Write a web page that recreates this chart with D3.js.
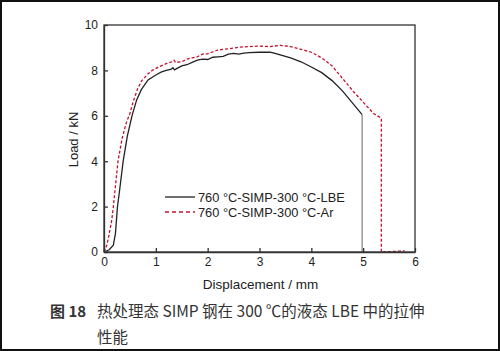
<!DOCTYPE html>
<html>
<head>
<meta charset="utf-8">
<script src="https://cdn.jsdelivr.net/npm/d3@7"></script>
<style>
  body { margin: 0; background: #fff; }
  text { font-family: "Liberation Sans", Arial, sans-serif; fill: #222; }
  .axis path, .axis line { stroke: #333; stroke-width: 1.3; }
  .axis text { font-size: 12px; fill: #222; font-family: "Liberation Sans", Arial, sans-serif; }
  .cap { font-family: "Noto Sans CJK SC", sans-serif; fill: #333; }
</style>
</head>
<body>
<div id="box-div"></div>
<script>
// 数据 (位移 mm, 载荷 kN)
const lbeX = [0, 0.1, 0.18, 0.22, 0.26, 0.3, 0.37, 0.45, 0.54, 0.63, 0.72, 0.85, 1.0, 1.1, 1.2, 1.3, 1.33, 1.36, 1.4, 1.5, 1.6, 1.7, 1.8, 1.9, 2.0, 2.1, 2.2, 2.3, 2.4, 2.5, 2.6, 2.7, 2.8, 3.0, 3.2, 3.3, 3.4, 3.6, 3.8, 4.0, 4.2, 4.4, 4.6, 4.8, 4.98, 4.98, 5.0]
const lbeY = [0, 0.1, 0.3, 0.8, 2.0, 2.7, 4.0, 5.1, 6.0, 6.7, 7.15, 7.58, 7.8, 7.92, 8.0, 8.06, 8.12, 8.02, 8.08, 8.2, 8.25, 8.35, 8.45, 8.5, 8.48, 8.58, 8.6, 8.62, 8.72, 8.75, 8.72, 8.76, 8.78, 8.8, 8.8, 8.75, 8.68, 8.55, 8.38, 8.15, 7.9, 7.55, 7.1, 6.55, 6.05, 0, 0]

const arX = [0, 0.04, 0.08, 0.15, 0.18, 0.27, 0.35, 0.43, 0.5, 0.56, 0.65, 0.73, 0.85, 0.93, 1.05, 1.2, 1.31, 1.35, 1.38, 1.5, 1.6, 1.7, 1.8, 1.9, 2.0, 2.2, 2.4, 2.6, 2.8, 3.0, 3.2, 3.4, 3.6, 3.8, 4.0, 4.2, 4.4, 4.6, 4.8, 5.0, 5.2, 5.35, 5.35, 5.8]
const arY = [0, 0.2, 0.55, 1.4, 2.0, 4.0, 5.0, 5.7, 6.1, 6.6, 7.2, 7.55, 7.85, 8.0, 8.15, 8.3, 8.38, 8.45, 8.35, 8.38, 8.5, 8.55, 8.6, 8.72, 8.73, 8.9, 8.95, 9.02, 9.05, 9.07, 9.05, 9.1, 9.05, 8.93, 8.8, 8.55, 8.2, 7.65, 7.1, 6.6, 6.1, 5.9, 0, 0.05]

const xTicks = [0, 1, 2, 3, 4, 5, 6]
const yTicks = [0, 2, 4, 6, 8, 10]
const legendNames = ['760 °C-SIMP-300 °C-LBE', '760 °C-SIMP-300 °C-Ar']

let dms = {
    width: 500,
    height: 351,
    margin: { top: 25, right: 85, bottom: 99, left: 104 }
}
dms.chartWidth = dms.width - dms.margin.left - dms.margin.right
dms.chartHeight = dms.height - dms.margin.top - dms.margin.bottom

const box = d3.select('#box-div').append('svg')
    .attr('width', dms.width)
    .attr('height', dms.height)

// 外框
box.append('rect')
    .attr('x', 1).attr('y', 1)
    .attr('width', dms.width - 2).attr('height', dms.height - 2)
    .attr('fill', '#fff').attr('stroke', '#111').attr('stroke-width', 2)

const content = box.append('g')
    .attr('transform', `translate(${dms.margin.left}, ${dms.margin.top})`)

const xScale = d3.scaleLinear().domain([0, 6]).range([0, dms.chartWidth])
const yScale = d3.scaleLinear().domain([0, 10]).range([dms.chartHeight, 0])

// 曲线
const line = d3.line()
    .x(d => xScale(d[0]))
    .y(d => yScale(d[1]))

const lbe = d3.zip(lbeX, lbeY)
const ar = d3.zip(arX, arY)

// 断裂处的竖线 (灰色)
const dropIdx = lbeY.indexOf(0, 1)
content.append('path')
    .attr('d', line(lbe.slice(0, dropIdx)))
    .attr('fill', 'none').attr('stroke', '#222').attr('stroke-width', 1.3)
content.append('path')
    .attr('d', line(lbe.slice(dropIdx - 1)))
    .attr('fill', 'none').attr('stroke', '#888').attr('stroke-width', 1.3)

content.append('path')
    .attr('d', line(ar))
    .attr('fill', 'none').attr('stroke', '#c8102e').attr('stroke-width', 1.3)
    .attr('stroke-dasharray', '3,2')

// 坐标轴
const xAxis = content.append('g')
    .attr('class', 'axis')
    .attr('transform', `translate(0, ${dms.chartHeight})`)
    .call(d3.axisBottom(xScale).tickValues(xTicks).tickFormat(d3.format('d'))
        .tickSizeInner(-4).tickSizeOuter(0).tickPadding(5))

const yAxis = content.append('g')
    .attr('class', 'axis')
    .call(d3.axisLeft(yScale).tickValues(yTicks).tickFormat(d3.format('d'))
        .tickSizeInner(-4).tickSizeOuter(0).tickPadding(6))

content.append('rect')
    .attr('width', dms.chartWidth).attr('height', dms.chartHeight)
    .attr('fill', 'none').attr('stroke', '#333').attr('stroke-width', 1.3)

content.append('text')
    .attr('x', dms.chartWidth / 2 + 1).attr('y', dms.chartHeight + 37)
    .attr('text-anchor', 'middle').style('font-size', '13.5px')
    .text('Displacement / mm')

content.append('text')
    .attr('transform', `translate(-26, ${dms.chartHeight / 2 + 1}) rotate(-90)`)
    .attr('text-anchor', 'middle').style('font-size', '13px')
    .text('Load / kN')

// 图例
const legend = content.append('g')
    .attr('transform', 'translate(61, 172)')
legend.append('line')
    .attr('x1', 0).attr('x2', 30).attr('y1', 0).attr('y2', 0)
    .attr('stroke', '#222').attr('stroke-width', 1.3)
legend.append('line')
    .attr('x1', 0).attr('x2', 30).attr('y1', 15).attr('y2', 15)
    .attr('stroke', '#c8102e').attr('stroke-width', 1.3).attr('stroke-dasharray', '4,3')
legend.selectAll('text.lg')
    .data(legendNames)
    .join('text')
    .attr('class', 'lg')
    .attr('x', 33).attr('y', (d, i) => i * 15 + 4.5)
    .style('font-size', '12.8px')
    .text(d => d)

// 图题
box.append('text')
    .attr('class', 'cap')
    .attr('x', 50).attr('y', 317)
    .style('font-size', '15px').style('font-weight', 'bold')
    .text('图 18')
box.append('text')
    .attr('class', 'cap')
    .attr('x', 97).attr('y', 317)
    .style('font-size', '15.5px')
    .text('热处理态 SIMP 钢在 300  ℃的液态 LBE 中的拉伸')
box.append('text')
    .attr('class', 'cap')
    .attr('x', 97).attr('y', 343)
    .style('font-size', '15.5px')
    .text('性能')
</script>
</body>
</html>
